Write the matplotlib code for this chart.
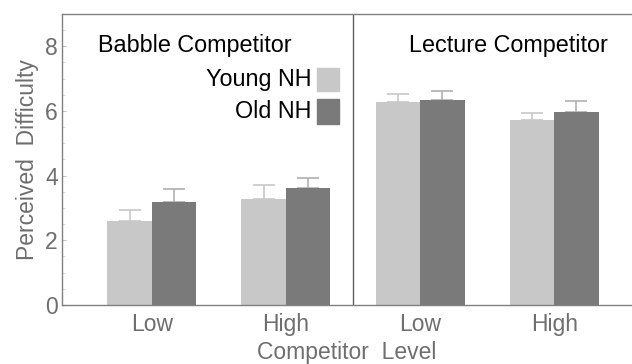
import numpy as np
import matplotlib.pyplot as plt
from matplotlib.patches import Rectangle

plt.rcParams['font.family'] = ['Liberation Sans', 'DejaVu Sans']

# competitor level groups: babble low/high, lecture low/high
levels = ["Low", "High", "Low", "High"]
young_nh = [2.60, 3.29, 6.27, 5.71]
old_nh = [3.18, 3.62, 6.35, 5.97]
young_err = [0.33, 0.41, 0.24, 0.24]
old_err = [0.42, 0.31, 0.28, 0.33]

young_color = "#c8c8c8"
old_color = "#7a7a7a"
axis_color = "#808080"
text_gray = "#6e6e6e"

fig = plt.figure(figsize=(6.32, 3.64), dpi=100)
ax = fig.add_axes([0.098, 0.162, 0.902, 0.80])

x = np.arange(len(levels))
w = 0.332
ax.bar(x - w / 2, young_nh, w, color=young_color, zorder=2)
ax.bar(x + w / 2, old_nh, w, color=old_color, zorder=2)
ax.errorbar(x - w / 2, young_nh, yerr=[np.zeros(4), young_err], fmt="none",
            ecolor=young_color, elinewidth=1.2, capsize=8, capthick=1.2, zorder=1)
ax.errorbar(x + w / 2, old_nh, yerr=[np.zeros(4), old_err], fmt="none",
            ecolor="#b0b0b0", elinewidth=1.2, capsize=8, capthick=1.2, zorder=1)

ax.axvline(1.5, color="#606060", lw=1.0)

ax.set_xlim(-0.67, 3.58)
ax.set_ylim(0, 9)
ax.set_yticks([0, 2, 4, 6, 8])
ax.set_yticks(np.arange(0, 9, 0.5), minor=True)
ax.set_xticks(x)
ax.set_xticklabels(levels)
ax.tick_params(axis="both", which="major", labelsize=16.5, labelcolor=text_gray,
               color="#c0c0c0", direction="in", length=3)
ax.tick_params(axis="y", which="minor", direction="in", length=2, color="#d0d0d0")
ax.tick_params(axis="y", pad=3)
ax.tick_params(axis="x", length=0, pad=6)

for side in ["left", "top", "bottom"]:
    ax.spines[side].set_color(axis_color)
    ax.spines[side].set_linewidth(1.0)
ax.spines["right"].set_visible(False)

ax.set_ylabel("Perceived  Difficulty", fontsize=16.5, color=text_gray, labelpad=4)
ax.set_xlabel("Competitor  Level", fontsize=16.5, color=text_gray, labelpad=3)

ax.text(0.32, 8.03, "Babble Competitor", fontsize=16.8, ha="center", va="center")
ax.text(2.66, 8.03, "Lecture Competitor", fontsize=16.8, ha="center", va="center")

# legend drawn by hand inside the babble panel
ax.text(1.19, 6.98, "Young NH", fontsize=16.8, ha="right", va="center")
ax.text(1.19, 5.98, "Old NH", fontsize=16.8, ha="right", va="center")
ax.add_patch(Rectangle((1.234, 6.63), 0.164, 0.70, color=young_color, zorder=2))
ax.add_patch(Rectangle((1.234, 5.59), 0.164, 0.77, color=old_color, zorder=2))

fig.savefig("out.png", dpi=100)
